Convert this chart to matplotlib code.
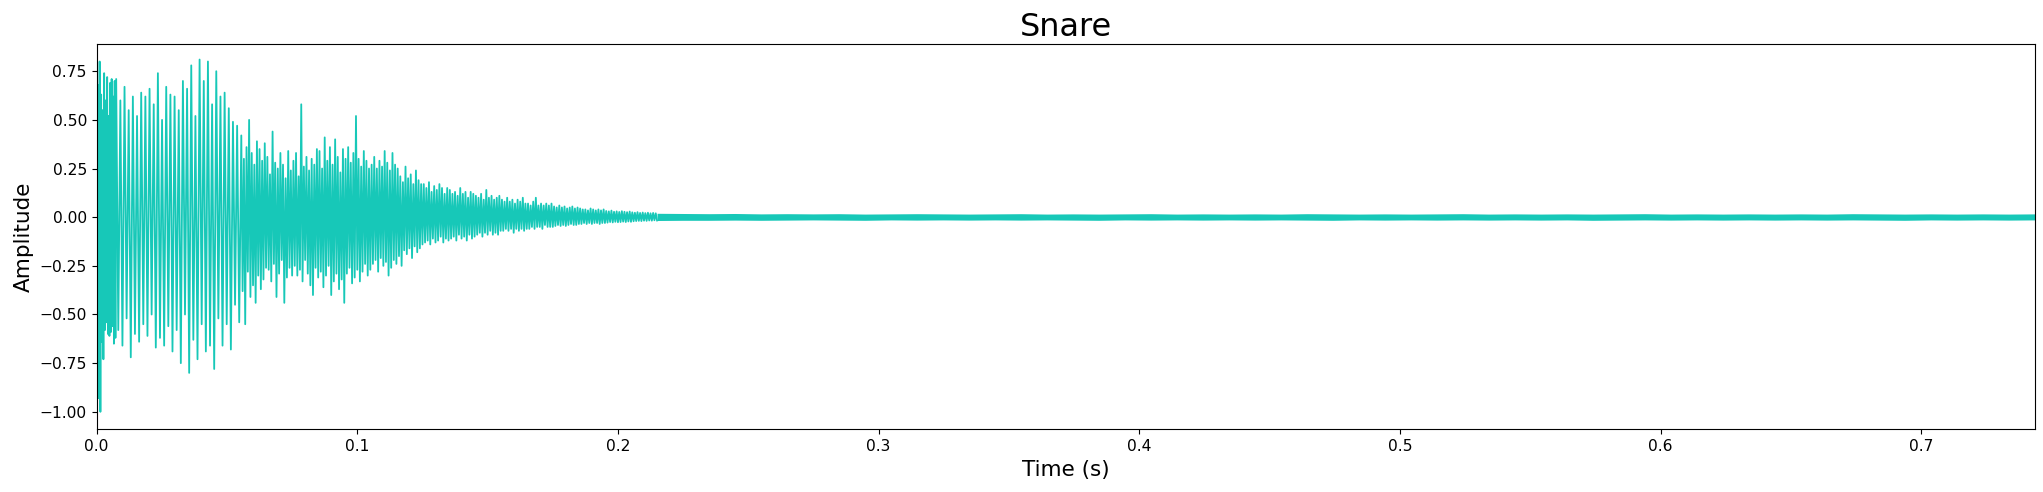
import numpy as np
import matplotlib
matplotlib.use("Agg")
import matplotlib.pyplot as plt

# waveform, split in parts with their own sample step
seg_bounds = [0.0, 0.0075, 0.0555, 0.2155, 0.7435]

# first hit: dense and full-scale
hit_vals = [0.31, -0.35, 0.68, -0.93, 0.80, -1.00, 0.63, -0.64, 0.55, -0.73,
            0.74, -0.58, 0.60, -0.54, 0.72, -0.60, 0.52, -0.61, 0.69, -0.59,
            0.71, -0.56, 0.62, -0.65, 0.70, -0.62]

# tonal part: one row per visible cycle (top, wiggle, wiggle, bottom)
tone_vals = [0.71, -0.58, 0.60, -0.66,
             0.67, -0.52, 0.55, -0.72,
             0.62, -0.60, 0.52, -0.64,
             0.64, -0.55, 0.62, -0.61,
             0.66, -0.50, 0.58, -0.67,
             0.74, -0.62, 0.50, -0.66,
             0.67, -0.56, 0.63, -0.69,
             0.62, -0.58, 0.55, -0.75,
             0.70, -0.50, 0.66, -0.80,
             0.78, -0.63, 0.52, -0.73,
             0.81, -0.55, 0.70, -0.69,
             0.80, -0.66, 0.58, -0.78,
             0.75, -0.52, 0.62, -0.66,
             0.64, -0.55, 0.56, -0.68,
             0.49, -0.45, 0.47, -0.54]

# noisy decay, one row per 10 ms
noise_vals = [
    0.42, -0.38, 0.30, -0.55, 0.36, -0.28, 0.50, -0.41, 0.33, -0.35, 0.27, -0.44, 0.39, -0.30, 0.35, -0.37, 0.29, -0.32, 0.38, -0.26,
    0.31, -0.27, 0.22, -0.33, 0.44, -0.24, 0.28, -0.41, 0.25, -0.29, 0.33, -0.22, 0.27, -0.44, 0.20, -0.31, 0.34, -0.26, 0.24, -0.30,
    0.29, -0.25, 0.33, -0.30, 0.21, -0.27, 0.58, -0.33, 0.26, -0.22, 0.31, -0.29, 0.24, -0.35, 0.30, -0.40, 0.27, -0.26, 0.35, -0.31,
    0.34, -0.28, 0.25, -0.36, 0.41, -0.30, 0.29, -0.25, 0.36, -0.40, 0.27, -0.33, 0.40, -0.29, 0.31, -0.37, 0.23, -0.32, 0.35, -0.44,
    0.30, -0.29, 0.36, -0.26, 0.28, -0.34, 0.33, -0.31, 0.52, -0.27, 0.30, -0.33, 0.26, -0.28, 0.34, -0.24, 0.29, -0.30, 0.25, -0.27,
    0.27, -0.24, 0.31, -0.22, 0.25, -0.28, 0.29, -0.21, 0.26, -0.25, 0.34, -0.23, 0.28, -0.30, 0.24, -0.26, 0.33, -0.22, 0.27, -0.24,
    0.25, -0.20, 0.21, -0.25, 0.18, -0.17, 0.26, -0.19, 0.20, -0.16, 0.22, -0.21, 0.17, -0.15, 0.24, -0.18, 0.19, -0.16, 0.17, -0.14,
    0.17, -0.13, 0.15, -0.12, 0.18, -0.14, 0.13, -0.11, 0.16, -0.13, 0.14, -0.12, 0.17, -0.10, 0.15, -0.13, 0.12, -0.11, 0.15, -0.12,
    0.14, -0.11, 0.12, -0.10, 0.13, -0.12, 0.11, -0.09, 0.15, -0.11, 0.12, -0.10, 0.13, -0.12, 0.10, -0.09, 0.13, -0.11, 0.12, -0.10,
    0.11, -0.09, 0.10, -0.08, 0.12, -0.10, 0.09, -0.08, 0.14, -0.09, 0.10, -0.07, 0.11, -0.09, 0.09, -0.08, 0.10, -0.09, 0.11, -0.07,
    0.09, -0.07, 0.08, -0.06, 0.10, -0.07, 0.08, -0.06, 0.09, -0.08, 0.07, -0.06, 0.09, -0.07, 0.08, -0.06, 0.10, -0.07, 0.07, -0.06,
    0.07, -0.06, 0.06, -0.05, 0.08, -0.06, 0.10, -0.05, 0.06, -0.05, 0.07, -0.06, 0.06, -0.04, 0.07, -0.05, 0.06, -0.05, 0.07, -0.05,
    0.055, -0.045, 0.05, -0.04, 0.06, -0.045, 0.05, -0.04, 0.055, -0.045, 0.045, -0.04, 0.05, -0.035, 0.055, -0.04, 0.045, -0.04, 0.05, -0.035,
    0.045, -0.035, 0.04, -0.03, 0.04, -0.035, 0.035, -0.03, 0.045, -0.035, 0.04, -0.03, 0.035, -0.03, 0.04, -0.035, 0.035, -0.03, 0.04, -0.03,
    0.032, -0.028, 0.03, -0.025, 0.034, -0.027, 0.028, -0.024, 0.03, -0.026, 0.027, -0.025, 0.031, -0.023, 0.028, -0.025, 0.026, -0.022, 0.029, -0.024,
    0.025, -0.021, 0.023, -0.02, 0.026, -0.019, 0.022, -0.02, 0.024, -0.018, 0.021, -0.019, 0.023, -0.017, 0.02, -0.018, 0.022, -0.016, 0.02, -0.017,
]

# residual noise floor, upper / lower edge every 10 ms
tail_hi = [0.020, 0.019, 0.018, 0.019, 0.017, 0.018, 0.017, 0.018, 0.016,
           0.017, 0.018, 0.017, 0.016, 0.017, 0.018, 0.016, 0.017, 0.016,
           0.017, 0.018, 0.016, 0.017, 0.016, 0.017, 0.016, 0.018, 0.017,
           0.016, 0.017, 0.016, 0.017, 0.018, 0.016, 0.017, 0.016, 0.017,
           0.016, 0.017, 0.018, 0.016, 0.017, 0.016, 0.017, 0.016, 0.017,
           0.016, 0.018, 0.017, 0.016, 0.017, 0.016, 0.017, 0.016, 0.017]
tail_lo = [-0.017, -0.016, -0.016, -0.015, -0.016, -0.015, -0.014, -0.015, -0.016,
           -0.014, -0.015, -0.014, -0.015, -0.014, -0.015, -0.014, -0.015, -0.016,
           -0.014, -0.015, -0.014, -0.015, -0.014, -0.015, -0.014, -0.015, -0.016,
           -0.014, -0.015, -0.014, -0.015, -0.014, -0.015, -0.014, -0.015, -0.014,
           -0.016, -0.015, -0.014, -0.015, -0.014, -0.015, -0.014, -0.015, -0.014,
           -0.015, -0.014, -0.015, -0.016, -0.014, -0.015, -0.014, -0.015, -0.014]

COLOR = "#17c8b8"

parts = [hit_vals, tone_vals, noise_vals]
t_line = np.concatenate([np.linspace(seg_bounds[i], seg_bounds[i + 1], len(p), endpoint=False)
                         for i, p in enumerate(parts)])
y_line = np.concatenate([np.asarray(p) for p in parts])
# the noise floor band picks up where the drawn line stops
t_tail = np.linspace(t_line[-1], seg_bounds[4], len(tail_hi))

fig = plt.figure(figsize=(20.43, 4.92), dpi=100)
ax = fig.add_axes([0.0473, 0.1274, 0.9486, 0.7832])
ax.plot(t_line, y_line, color=COLOR, linewidth=1.3)
ax.fill_between(t_tail, tail_lo, tail_hi, color=COLOR, linewidth=0)

ax.set_xlim(seg_bounds[0], seg_bounds[-1])
ax.set_ylim(-1.09, 0.89)
ax.set_title("Snare", fontsize=23)
ax.set_xlabel("Time (s)", fontsize=15.5)
ax.set_ylabel("Amplitude", fontsize=15.5)
ax.tick_params(labelsize=11.2)

fig.savefig("out.png", dpi=100)
